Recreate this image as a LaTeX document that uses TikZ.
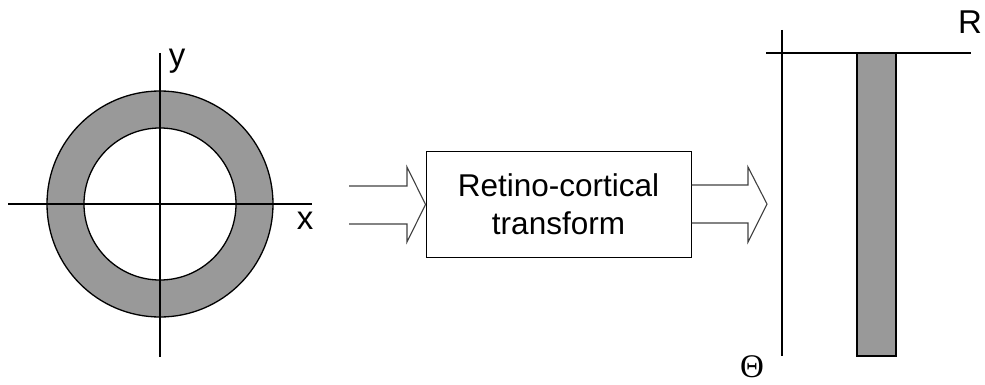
\documentclass[tikz,border=0pt]{standalone}
\usepackage{fontspec}
\setmainfont{Liberation Sans}
\newfontfamily\thetafont{Liberation Serif}
\usetikzlibrary{positioning}

\begin{document}
\begin{tikzpicture}[x=1pt,y=-1pt,every node/.style={black,font=\fontsize{33}{38}\selectfont},
	axis/.style={line width=1.3pt},
	ring/.style={fill=black!40,draw=black,line width=1.3pt},
	hollow/.style={draw=black!75,line width=1.1pt,line join=miter}]
	\useasboundingbox (0,0) rectangle (985,385);

	% ring in the x-y plane
	\coordinate (O) at (160,204);
	\filldraw[ring,even odd rule] (O) circle (113pt) (O) circle (76pt);
	\draw[axis] (8,204)--(312,204);
	\draw[axis] (160,53)--(160,357);
	\node (xlab) at (305,221) {x};
	\node (ylab) at (177,61) {y};

	% transform box
	\node[draw,line width=1pt,minimum width=265pt,minimum height=105pt,align=center,
		font=\fontsize{31.5}{38}\selectfont] (rct) at (558.5,204.5) {Retino-cortical\\transform};

	% open arrows
	\draw[hollow] (349,186)--(407,186)--(407,167)--(rct.west)--(407,242)--(407,224)--(349,224);
	\draw[hollow] (rct.east |- 0,185)--(748,185)--(748,167)--(767,204)--(748,242)--(748,223)--(rct.east |- 0,223);

	% R-Theta plane
	\filldraw[ring,line width=1.2pt] (857,53) rectangle (896,356);
	\draw[axis] (782,30)--(782,356);
	\draw[axis] (766,53)--(971,53);
	\node (rlab) at (970,22) {R};
	\node[font=\thetafont\fontsize{33}{38}\selectfont] (tlab) at (752,367) {Θ};
\end{tikzpicture}
\end{document}
